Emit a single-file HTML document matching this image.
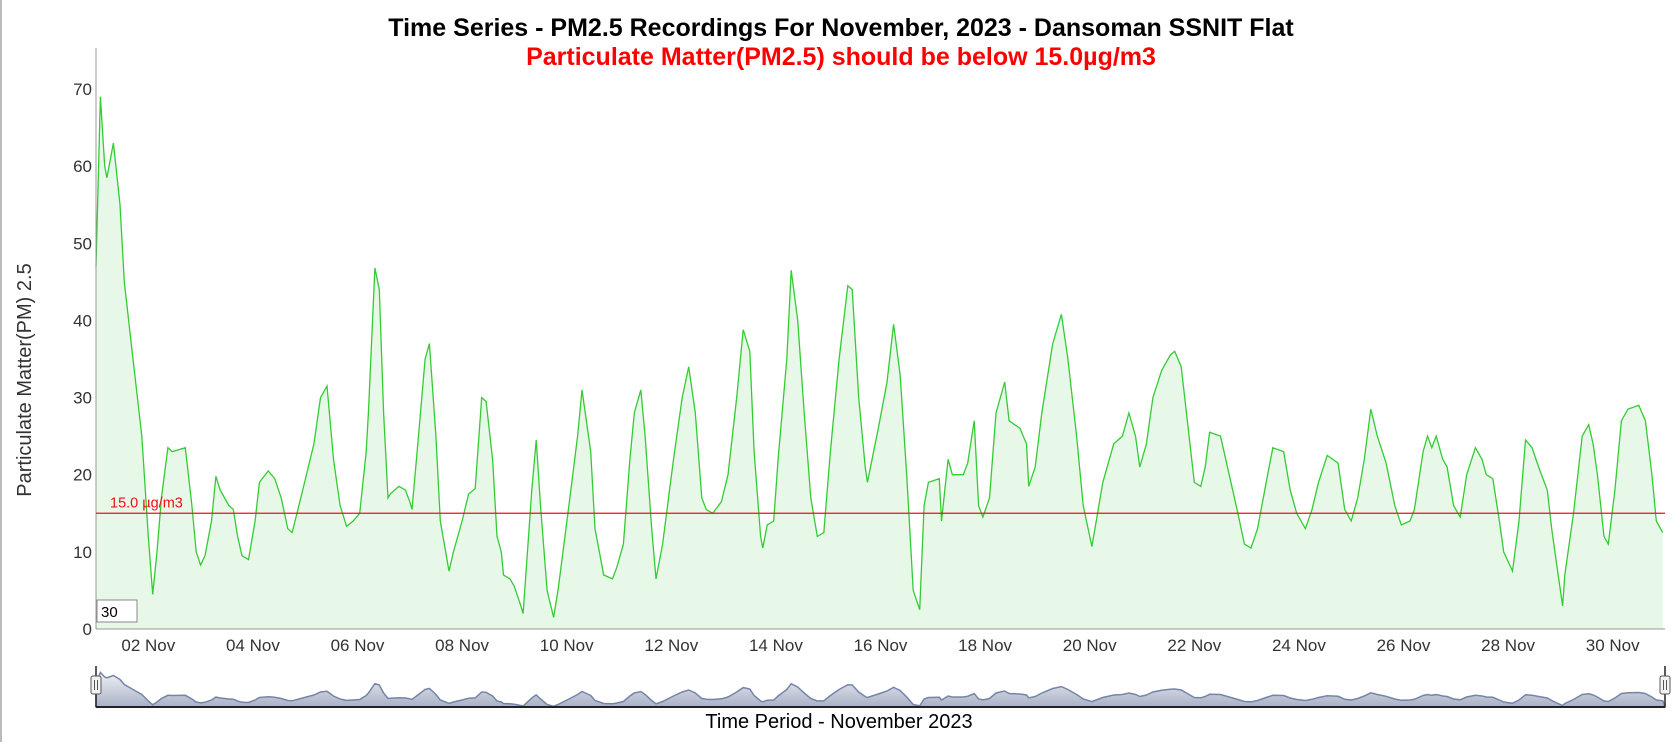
<!DOCTYPE html>
<html><head><meta charset="utf-8"><style>
body{margin:0;width:1680px;height:742px;overflow:hidden;background:#fff;font-family:"Liberation Sans",Arial,sans-serif}
svg text{font-family:"Liberation Sans",Arial,sans-serif}
</style></head><body>
<svg id="chart" width="1680" height="742" xmlns="http://www.w3.org/2000/svg">
<defs><linearGradient id="navg" x1="0" y1="0" x2="0" y2="1"><stop offset="0" stop-color="#f0f1f4"/><stop offset="1" stop-color="#a9b1c7"/></linearGradient></defs>
<rect x="0" y="0" width="2" height="742" fill="#bbb"/>
<text x="841" y="36" text-anchor="middle" font-size="25" font-weight="bold" fill="#000">Time Series - PM2.5 Recordings For November, 2023 - Dansoman SSNIT Flat</text>
<text x="841" y="65" text-anchor="middle" font-size="25" font-weight="bold" fill="#ff0000">Particulate Matter(PM2.5) should be below 15.0µg/m3</text>
<text transform="translate(31,380) rotate(-90)" text-anchor="middle" font-size="20" fill="#333">Particulate Matter(PM) 2.5</text>
<text x="839" y="728" text-anchor="middle" font-size="20" fill="#000">Time Period - November 2023</text>
<g id="main"></g>
<g id="nav"></g>
</svg>
<script>
const hours=[0,2,4,5,8,11,13,17,21,24,26,28,30,33,35,41,44,46,48,50,53,55,57,61,63,65,67,70,73,75,79,82,85,88,90,94,100,103,106,109,112,115,118,121,124,125,128,130,132,134,135,139,142,144,145,148,151,153,156,158,162,164,168,171,174,177,179,182,184,186,187,190,192,195,196,200,202,204,207,210,212,217,221,223,227,229,233,237,239,242,245,247,250,252,255,257,260,265,269,272,275,278,280,283,287,290,294,297,300,302,305,306,308,311,313,317,319,322,325,328,331,334,337,341,345,347,350,353,354,359,363,366,369,372,375,378,380,382,387,388,391,393,398,400,403,405,407,410,413,417,419,424,427,428,431,434,439,443,446,450,453,457,462,467,471,474,477,479,482,485,489,493,495,498,500,504,507,509,511,516,520,524,527,530,533,537,540,545,548,551,555,558,561,565,570,573,576,579,582,585,588,592,596,599,603,605,609,611,613,615,618,620,623,626,629,633,636,638,641,644,646,650,653,656,659,662,666,668,670,673,674,678,682,685,687,689,692,694,697,700,703,708,711,714,716,719];
const values=[47,69,60,58.5,63,55,45,35,25,12,4.5,10,17,23.5,23,23.5,16,10,8.3,9.5,14,19.8,18,16,15.5,12,9.5,9,14,19,20.5,19.5,17,13,12.5,17,24,30,31.5,22,16,13.3,14,15,23,28,46.8,44,28,17,17.5,18.5,18,16.5,15.5,25,35,37,25,14,7.5,10,14,17.5,18.2,30,29.5,22,12,10,7,6.5,5.5,3,2,18,24.5,16,5,1.5,5,16,25,31,23,13,7,6.5,8,11,22,28,31,25,13,6.5,11,22,30,34,28,17,15.5,15,16.5,20,30,38.8,36,23,12,10.5,13.5,14,22,35,46.5,40,28,17,12,12.5,23,35,44.5,44,30,21,19,26,32,39.5,33,20,5,2.5,16,19,19.5,14,22,20,20,21.5,27,16,14.5,17,28,32,27,26,24,18.5,21,28,37,40.8,35,25,16,10.7,19,24,25,28,25,21,24,30,33.5,35.5,36,34,29,19,18.5,21,25.5,25,20,15,11,10.5,13,19,23.5,23,18,15,13,15.5,19,22.5,21.5,15.5,14,17,22,28.5,25,21.5,16,13.5,14,15.5,23,25,23.5,25,22,21,16,14.5,20,23.5,22,20,19.5,14,10,7.5,14,24.5,23.5,21,18,13,9,3,7,15,25,26.5,24,20,12,11,18,27,28.5,29,27,20,14,12.5];
const yTicks=[0,10,20,30,40,50,60,70];
const xTickDays=[2,4,6,8,10,12,14,16,18,20,22,24,26,28,30];
const threshold=15;
const NS="http://www.w3.org/2000/svg";
const X0=96,X1=1665,TOTAL_H=720,Y0=629,PER=540/70,TOP=48;
const xs=h=>X0+h/TOTAL_H*(X1-X0);
const ys=v=>Y0-v*PER;
const nys=v=>707-v*0.5;
function mk(tag,attrs,parent){const e=document.createElementNS(NS,tag);for(const k in attrs)e.setAttribute(k,attrs[k]);parent.appendChild(e);return e;}
const main=document.getElementById('main');
let pts=hours.map((h,i)=>xs(h).toFixed(1)+","+ys(values[i]).toFixed(1));
const area=mk('path',{d:"M"+xs(hours[0])+","+Y0+" L"+pts.join(" L")+" L"+xs(hours[hours.length-1])+","+Y0+" Z",fill:"#e8f8e8",stroke:"none"},main);


const line=mk('path',{d:"M"+pts.join(" L"),fill:"none",stroke:"#33cc33","stroke-width":"1.3"},main);


const ya=mk('line',{x1:X0,y1:TOP,x2:X0,y2:Y0,stroke:"#999","stroke-width":1},main);


const xa=mk('line',{x1:X0,y1:Y0,x2:X1,y2:Y0,stroke:"#999","stroke-width":1},main);


yTicks.forEach(t=>{const e=mk('text',{x:92,y:ys(t)+6,"text-anchor":"end","font-size":17,fill:"#333"},main);e.textContent=t;

});
xTickDays.forEach(d=>{const e=mk('text',{x:xs((d-1)*24),y:651,"text-anchor":"middle","font-size":17,fill:"#333"},main);e.textContent=String(d).padStart(2,'0')+" Nov";

});
const th=mk('line',{x1:X0,y1:ys(threshold),x2:X1,y2:ys(threshold),stroke:"#ee1111","stroke-width":1.3},main);


const tl=mk('text',{x:110,y:ys(threshold)-6,"font-size":14.5,fill:"#ee1111"},main);tl.textContent="15.0 µg/m3";


const rb=mk('rect',{x:97,y:600,width:40,height:22,fill:"#fff",stroke:"#888","stroke-width":1},main);


const rt=mk('text',{x:101,y:617,"font-size":15,fill:"#000"},main);rt.textContent="30";


const nav=document.getElementById('nav');
let np=hours.map((h,i)=>xs(h).toFixed(1)+","+nys(values[i]).toFixed(1));
const na=mk('path',{d:"M"+X0+",707 L"+np.join(" L")+" L"+X1+",707 Z",fill:"url(#navg)",stroke:"#7585a8","stroke-width":1.5},nav);


const nb=mk('line',{x1:X0,y1:707,x2:X1,y2:707,stroke:"#222","stroke-width":2},nav);


const nl=mk('line',{x1:X0,y1:666,x2:X0,y2:707,stroke:"#222","stroke-width":1.5},nav);


const nr=mk('line',{x1:X1,y1:666,x2:X1,y2:707,stroke:"#222","stroke-width":1.5},nav);


[X0,X1].forEach((hx,i)=>{const g=mk('g',{},nav);
mk('rect',{x:hx-5,y:676,width:10,height:18,rx:2,fill:"#f2f2f2",stroke:"#555"},g);
mk('line',{x1:hx-1.5,y1:680,x2:hx-1.5,y2:690,stroke:"#555"},g);
mk('line',{x1:hx+1.5,y1:680,x2:hx+1.5,y2:690,stroke:"#555"},g);

});
</script>
</body></html>
